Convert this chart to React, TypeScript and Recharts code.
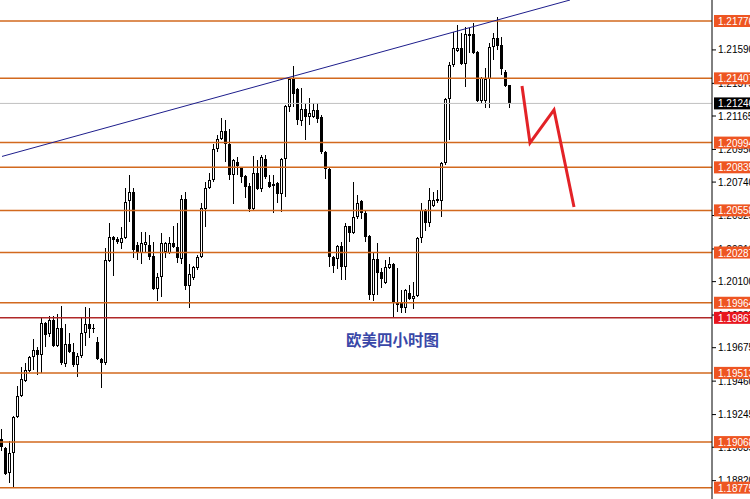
import React from 'react';
import { ComposedChart, Bar, Line, XAxis, YAxis, ReferenceLine } from 'recharts';

const opens = [1.19088,1.19030,1.18870,1.18998,1.19230,1.19365,1.19461,1.19525,1.19615,1.19660,1.19628,1.19834,1.19763,1.19853,1.19686,1.19802,1.19570,1.19699,1.19648,1.19564,1.19622,1.19770,1.19828,1.19800,1.19712,1.19603,1.19577,1.20233,1.20387,1.20374,1.20349,1.20381,1.20619,1.20676,1.20336,1.20284,1.20336,1.20336,1.20265,1.20053,1.20130,1.20290,1.20284,1.20349,1.20323,1.20246,1.20631,1.20072,1.20123,1.20188,1.20258,1.20567,1.20702,1.20754,1.20953,1.21017,1.21069,1.20985,1.20786,1.20869,1.20831,1.20779,1.20715,1.20567,1.20799,1.20696,1.20888,1.20741,1.20715,1.20734,1.20664,1.20888,1.21223,1.21403,1.21339,1.21133,1.21210,1.21159,1.21159,1.21204,1.21159,1.20934,1.20824,1.20258,1.20246,1.20329,1.20194,1.20458,1.20413,1.20516,1.20619,1.20541,1.20394,1.20014,1.20246,1.20162,1.20091,1.20188,1.20213,1.19963,1.19963,1.19931,1.20027,1.19988,1.20008,1.20381,1.20561,1.20477,1.20586,1.20619,1.20619,1.20863,1.21274,1.21493,1.21583,1.21602,1.21499,1.21680,1.21692,1.21577,1.21262,1.21262,1.21403,1.21609,1.21667,1.21622,1.21448,1.21364];
const highs = [1.19152,1.19035,1.19075,1.19236,1.19429,1.19551,1.19577,1.19620,1.19731,1.19680,1.19866,1.19841,1.19879,1.19879,1.19892,1.19943,1.19828,1.19770,1.19706,1.19641,1.19873,1.19937,1.19931,1.19828,1.19744,1.19609,1.20316,1.20477,1.20394,1.20387,1.20451,1.20702,1.20786,1.20702,1.20355,1.20419,1.20419,1.20400,1.20355,1.20156,1.20413,1.20355,1.20387,1.20458,1.20477,1.20657,1.20676,1.20213,1.20200,1.20271,1.20606,1.20741,1.20799,1.20985,1.21043,1.21152,1.21139,1.21082,1.20888,1.20901,1.20835,1.20786,1.20734,1.20908,1.20882,1.20914,1.20914,1.20786,1.20786,1.20740,1.20895,1.21236,1.21409,1.21487,1.21345,1.21345,1.21249,1.21281,1.21249,1.21249,1.21172,1.20940,1.20835,1.20262,1.20336,1.20355,1.20477,1.20458,1.20741,1.20657,1.20625,1.20554,1.20400,1.20284,1.20349,1.20188,1.20239,1.20258,1.20220,1.20188,1.20046,1.20050,1.20078,1.20098,1.20387,1.20606,1.20567,1.20702,1.20676,1.20689,1.20869,1.21281,1.21512,1.21705,1.21750,1.21699,1.21737,1.21731,1.21763,1.21580,1.21416,1.21474,1.21635,1.21699,1.21802,1.21673,1.21461,1.21364];
const lows = [1.19011,1.18857,1.18805,1.18773,1.19223,1.19360,1.19455,1.19519,1.19532,1.19500,1.19513,1.19680,1.19744,1.19680,1.19680,1.19564,1.19551,1.19641,1.19551,1.19487,1.19609,1.19686,1.19738,1.19770,1.19596,1.19416,1.19564,1.20226,1.20136,1.20342,1.20310,1.20374,1.20484,1.20252,1.20239,1.20213,1.20284,1.20239,1.20046,1.19976,1.20001,1.20252,1.20280,1.20316,1.20220,1.20213,1.20046,1.19931,1.20111,1.20175,1.20252,1.20451,1.20696,1.20741,1.20934,1.21011,1.20869,1.20754,1.20599,1.20786,1.20734,1.20638,1.20548,1.20554,1.20689,1.20676,1.20760,1.20705,1.20541,1.20606,1.20548,1.20644,1.21191,1.21223,1.21107,1.21101,1.21011,1.21107,1.21152,1.21120,1.20921,1.20760,1.20194,1.20156,1.20181,1.20111,1.20111,1.20355,1.20406,1.20503,1.20503,1.20355,1.19982,1.19976,1.20014,1.20059,1.20085,1.20181,1.19866,1.19905,1.19898,1.19898,1.19982,1.19924,1.20001,1.20349,1.20426,1.20451,1.20580,1.20606,1.20516,1.20850,1.21011,1.21480,1.21577,1.21493,1.21352,1.21570,1.21565,1.21255,1.21249,1.21217,1.21217,1.21525,1.21589,1.21429,1.21352,1.21217];
const closes = [1.19037,1.18863,1.18998,1.19230,1.19365,1.19474,1.19532,1.19615,1.19660,1.19628,1.19834,1.19757,1.19853,1.19686,1.19802,1.19577,1.19699,1.19648,1.19564,1.19622,1.19770,1.19828,1.19796,1.19796,1.19603,1.19577,1.20239,1.20387,1.20368,1.20355,1.20381,1.20612,1.20676,1.20303,1.20284,1.20349,1.20355,1.20258,1.20053,1.20130,1.20349,1.20349,1.20349,1.20323,1.20252,1.20631,1.20072,1.20149,1.20194,1.20258,1.20574,1.20702,1.20754,1.20953,1.21017,1.21069,1.20985,1.20786,1.20882,1.20844,1.20773,1.20709,1.20567,1.20799,1.20696,1.20901,1.20773,1.20709,1.20728,1.20664,1.20888,1.21229,1.21403,1.21307,1.21139,1.21210,1.21159,1.21184,1.21204,1.21146,1.20934,1.20824,1.20258,1.20201,1.20329,1.20194,1.20458,1.20413,1.20516,1.20606,1.20541,1.20387,1.20014,1.20246,1.20156,1.20117,1.20194,1.20213,1.19963,1.19950,1.19931,1.20046,1.19988,1.20008,1.20381,1.20561,1.20477,1.20625,1.20625,1.20631,1.20863,1.21274,1.21493,1.21602,1.21602,1.21499,1.21692,1.21692,1.21570,1.21262,1.21409,1.21403,1.21609,1.21667,1.21615,1.21467,1.21358,1.21246];

const yTicks = [1.2159, 1.21375, 1.21165, 1.2095, 1.2074, 1.20525, 1.2031, 1.201, 1.19885, 1.19675, 1.1946, 1.19245, 1.19035, 1.1882];
const resistanceLevels = [1.21776, 1.21407, 1.20994, 1.20835, 1.20558, 1.20287, 1.19964, 1.19513, 1.19068, 1.18775];
const keyLevel = 1.19867;
const currentPrice = 1.21246;
const trendIdx = [0, 142];
const trendPrices = [1.20905, 1.21911];
const arrowIdx = [130, 132, 138, 143];
const arrowPrices = [1.21358, 1.20992, 1.21204, 1.2058];
const yDomain = [1.18702, 1.21911];
const title = '欧美四小时图';
const SLOTS = 178;

const data = Array.from({ length: SLOTS }, (_, i) => {
  const row: any = { i };
  if (i < opens.length) {
    row.o = opens[i];
    row.h = highs[i];
    row.l = lows[i];
    row.c = closes[i];
  }
  const k = arrowIdx.indexOf(i);
  if (k >= 0) row.arrow = arrowPrices[k];
  return row;
});

const FONT = '"Liberation Sans", Arial, sans-serif';
const MARGIN = { top: 0, right: 0, bottom: 0, left: 0 };

const Candle = (props: any) => {
  const { x, y, width, height, payload } = props;
  if (!payload || payload.o == null) return null;
  const { o, h, l, c } = payload;
  const range = h - l;
  const ratio = range > 0 ? height / range : 0;
  const cx = Math.floor(x + width / 2);
  const top = y + (h - Math.max(o, c)) * ratio;
  const bot = y + (h - Math.min(o, c)) * ratio;
  const bull = c > o;
  const t = Math.round(top);
  const b = Math.max(t + 1, Math.round(bot));
  return (
    <g shapeRendering="crispEdges">
      <rect x={cx - 1} y={y} width={1} height={Math.max(1, height)} fill="#000" />
      {bull ? (
        <rect x={cx - 1.5} y={t + 0.5} width={2} height={Math.max(1, b - t - 1)} fill="#fff" stroke="#000" strokeWidth={1} />
      ) : (
        <rect x={cx - 2} y={t} width={3} height={b - t} fill="#000" />
      )}
    </g>
  );
};

const BoxLabel = (props: any) => {
  const vb = props.viewBox;
  if (!vb) return null;
  const yy = vb.y;
  const xx = vb.x + vb.width + 2;
  return (
    <g>
      <rect x={xx} y={yy - 6} width={40} height={12} fill={props.bg} />
      <text x={xx + 4} y={yy + 0.5} dominantBaseline="central" fill="#fff" fontSize={10} fontFamily={FONT}>
        {props.text}
      </text>
    </g>
  );
};

const boxLevels = [
  ...resistanceLevels.map((lv) => ({ lv, bg: '#ee5522' })),
  { lv: keyLevel, bg: '#e8161e' },
  { lv: currentPrice, bg: '#000' },
];

export default function App() {
  return (
    <div style={{ position: 'relative', width: 750, height: 499, background: '#fff', overflow: 'hidden' }}>
      <style>{`body{margin:0;background:#fff;}`}</style>
      <ComposedChart width={750} height={499} data={data} margin={MARGIN}>
        <XAxis dataKey="i" type="category" hide />
        <YAxis
          orientation="right"
          width={38}
          domain={yDomain}
          allowDataOverflow
          type="number"
          ticks={yTicks}
          interval={0}
          tickSize={4}
          tickMargin={2}
          tickFormatter={(v: number) => v.toFixed(5)}
          tick={{ fill: '#000', fontSize: 10, fontFamily: FONT, textAnchor: 'start' }}
          axisLine={{ stroke: '#000' }}
          tickLine={{ stroke: '#000' }}
        />
        <Bar
          dataKey={(d: any) => (d.o == null ? null : [d.l, d.h])}
          barSize={3}
          shape={<Candle />}
          isAnimationActive={false}
        />
        <ReferenceLine y={currentPrice} stroke="#c0c0c0" strokeWidth={1} />
        {resistanceLevels.map((lv) => (
          <ReferenceLine key={lv} y={lv} stroke="#d2691e" strokeWidth={1.5} />
        ))}
        <ReferenceLine y={keyLevel} stroke="#b02828" strokeWidth={1.5} />
        <ReferenceLine
          segment={[{ x: trendIdx[0], y: trendPrices[0] }, { x: trendIdx[1], y: trendPrices[1] }]}
          stroke="#1e1e8c"
          strokeWidth={1}
        />
        <Line dataKey="arrow" connectNulls stroke="#e32227" strokeWidth={3} dot={false} isAnimationActive={false} type="linear" />
      </ComposedChart>
      <div style={{ position: 'absolute', left: 0, top: 0, pointerEvents: 'none' }}>
        <ComposedChart width={750} height={499} data={data} margin={MARGIN}>
          <XAxis dataKey="i" type="category" hide />
          <YAxis orientation="right" width={38} domain={yDomain} allowDataOverflow type="number"
            tick={false} axisLine={false} tickLine={false} />
          {boxLevels.map((b) => (
            <ReferenceLine key={b.lv} y={b.lv} stroke="none" strokeOpacity={0}
              label={<BoxLabel text={b.lv.toFixed(5)} bg={b.bg} />} />
          ))}
        </ComposedChart>
      </div>
      <div style={{ position: 'absolute', left: 346, top: 330, fontFamily: '"Noto Sans CJK SC", sans-serif', fontWeight: 700, fontSize: 15.5, color: '#3a48a8', lineHeight: '18px', whiteSpace: 'nowrap' }}>
        {title}
      </div>
    </div>
  );
}
